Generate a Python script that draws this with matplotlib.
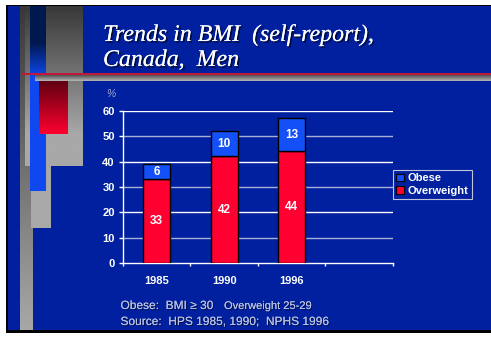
import matplotlib
matplotlib.use("Agg")
import matplotlib.pyplot as plt
import matplotlib.colors as mcolors
import matplotlib.patheffects as pe
import numpy as np
from matplotlib.patches import Rectangle, Patch

# ---- data ----
years = ["1985", "1990", "1996"]
overweight = [33, 42, 44]
obese = [6, 10, 13]
y_ticks = [0, 10, 20, 30, 40, 50, 60]
legend_labels = ["Obese", "Overweight"]
title_lines = ["Trends in BMI  (self-report),", "Canada,  Men"]

BG = "#0020a0"
RED = "#ff0030"
BLUE = "#1450f8"

W, H = 491, 337
fig = plt.figure(figsize=(W / 100, H / 100), dpi=100, facecolor="white")

# ---- slide background & decorations (pixel coordinates) ----
bg = fig.add_axes([0, 0, 1, 1])
bg.axis("off")


def rect(x0, y0, x1, y1, color, z=1):
    bg.add_patch(Rectangle((x0, y0), x1 - x0, y1 - y0, facecolor=color,
                           edgecolor="none", zorder=z))


def vgrad(x0, y0, x1, y1, c_top, c_bot, z=1, stop=1.0, start=0.0):
    t = np.clip((np.linspace(0, 1, 256) - start) / (stop - start), 0, 1)
    ct = np.array(mcolors.to_rgb(c_top))
    cb = np.array(mcolors.to_rgb(c_bot))
    arr = ct[None, :] * (1 - t[:, None]) + cb[None, :] * t[:, None]
    bg.imshow(arr[:, None, :], extent=(x0, x1, y1, y0), aspect="auto",
              zorder=z, interpolation="bilinear")


rect(6, 5, W, 333, "black", z=0)
rect(8, 6, W, 330, BG, z=0.5)
vgrad(20, 6, 33, 330, "#383838", "#a8a8a8", z=1)
rect(31, 160, 51, 228, "#a8a8a8", z=1.5)
vgrad(25, 6, 83, 166, "#383838", "#a8a8a8", z=2, stop=0.8)
vgrad(30, 6, 46, 191, "#001850", "#1048f0", z=3, start=0.2, stop=0.38)
rect(21, 72.8, W, 74.6, "#c01838", z=4)
vgrad(35, 75, W, 81, "#505050", "#b8b8b8", z=4)
vgrad(39, 81, 68, 134, "#600010", "#ff0030", z=5)
bg.set_xlim(0, W)
bg.set_ylim(H, 0)

# ---- title ----
shadow = [pe.withSimplePatchShadow(offset=(1.2, -1.2), shadow_rgbFace="black", alpha=0.6), pe.Normal()]
for i, line in enumerate(title_lines):
    fig.text(103 / W, 1 - (41 + 25 * i) / H, line, color="white",
             family="Liberation Serif", style="italic", fontsize=17.2,
             ha="left", va="baseline", path_effects=shadow)

# ---- chart ----
ax = fig.add_axes([123 / W, (H - 263.3) / H, 270 / W, 152.6 / H])
ax.set_facecolor("none")
x = np.arange(len(years)) + 0.5
width = 0.406
ax.bar(x, overweight, width, color=RED, edgecolor="black", linewidth=1, zorder=3)
ax.bar(x, obese, width, bottom=overweight, color=BLUE, edgecolor="black", linewidth=1, zorder=3)

for xi, ov, ob in zip(x, overweight, obese):
    ax.text(xi, ov / 2, str(ov), color="white", ha="center", va="center",
            family="Liberation Sans", weight="bold", fontsize=8.5, zorder=4)
    ax.text(xi, ov + ob / 2, str(ob), color="white", ha="center", va="center",
            family="Liberation Sans", weight="bold", fontsize=8.5, zorder=4)

ax.set_xlim(0, 4)
ax.set_ylim(0, 60)
for i, v in enumerate(y_ticks[1:]):
    ax.axhline(v, color="white" if v % 20 == 0 else "#a8b0d8", lw=1, zorder=1)

for s in ["top", "right"]:
    ax.spines[s].set_visible(False)
for s in ["left", "bottom"]:
    ax.spines[s].set_color("white")
    ax.spines[s].set_linewidth(1)

ax.set_yticks(y_ticks)
ax.set_yticklabels([str(v) for v in y_ticks])
ax.tick_params(axis="y", colors="white", length=3, width=1, pad=3)
ax.set_xticks([0, 1, 2, 3, 4])
ax.set_xticklabels([])
ax.tick_params(axis="x", which="major", colors="white", length=2.5, width=1)
ax.set_xticks(x, minor=True)
ax.set_xticklabels(years, minor=True)
ax.tick_params(axis="x", which="minor", length=0, pad=9, labelcolor="white")
for lab in ax.get_yticklabels() + ax.get_xticklabels(minor=True):
    lab.set_family("Liberation Sans")
    lab.set_weight("bold")
    lab.set_fontsize(8)
    lab.set_color("white")

fig.text(111 / W, 1 - 94 / H, "%", color="#a0a8d0", family="Liberation Sans",
         style="italic", fontsize=7.5, ha="center", va="center")

# ---- legend ----
handles = [Patch(facecolor=BLUE, edgecolor="black", lw=0.8),
           Patch(facecolor=RED, edgecolor="black", lw=0.8)]
leg = fig.legend(handles, legend_labels, loc="upper left",
                 bbox_to_anchor=(393 / W, (H - 170) / H), frameon=True,
                 fancybox=False, edgecolor="#c0c4d8", facecolor=BG, framealpha=1,
                 prop={"family": "Liberation Sans", "weight": "bold", "size": 8},
                 labelcolor="white", handlelength=0.7, handleheight=0.7,
                 handletextpad=0.3, borderpad=0.3, labelspacing=0.25,
                 borderaxespad=0)
leg.get_frame().set_linewidth(0.8)

# ---- footer ----
FOOT = "#b8c0e0"
fshadow = [pe.withSimplePatchShadow(offset=(0.8, -0.8), shadow_rgbFace="black", alpha=0.5), pe.Normal()]
fig.text(120.5 / W, 1 - 309 / H, "Obese:  BMI ≥ 30", color=FOOT, family="Liberation Sans",
         fontsize=8.6, ha="left", va="baseline", path_effects=fshadow)
fig.text(224 / W, 1 - 309 / H, "Overweight 25-29", color=FOOT, family="Liberation Sans",
         fontsize=8, ha="left", va="baseline", path_effects=fshadow)
fig.text(120.5 / W, 1 - 325 / H, "Source:  HPS 1985, 1990;  NPHS 1996", color=FOOT,
         family="Liberation Sans", fontsize=8.6, ha="left", va="baseline", path_effects=fshadow)

fig.savefig("out.png", dpi=100, facecolor="white")
